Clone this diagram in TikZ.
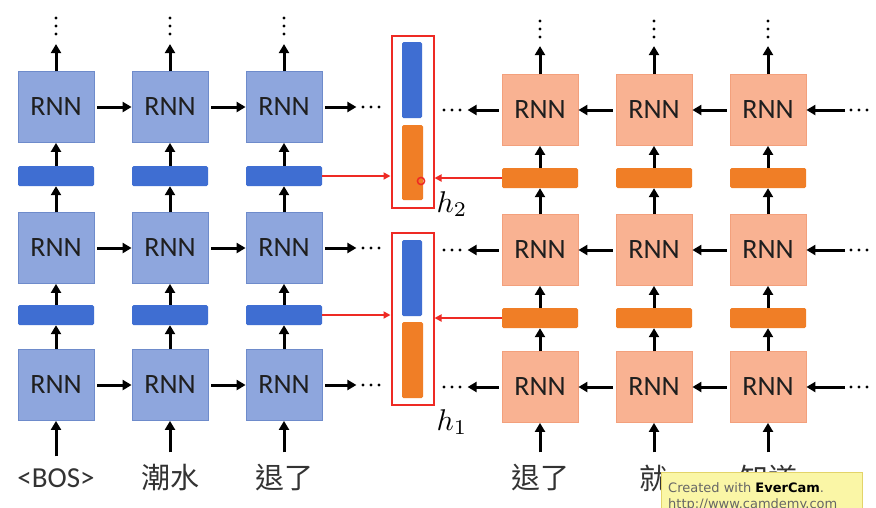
\documentclass[tikz,border=0pt]{standalone}
\usepackage{fontspec}
\setmainfont{Carlito}
\newfontfamily\cjk{Noto Sans CJK TC}
\newfontfamily\wmfont{DejaVu Sans}
\usetikzlibrary{arrows.meta}
\definecolor{lbfill}{HTML}{8EA6DD}
\definecolor{lbdraw}{HTML}{6E8BCB}
\definecolor{bbar}{HTML}{3F6ED2}
\definecolor{ofill}{HTML}{F9B292}
\definecolor{odraw}{HTML}{F3A07C}
\definecolor{obar}{HTML}{F07E26}
\definecolor{hred}{HTML}{EE2A24}
\definecolor{wmfill}{HTML}{FAF6A6}
\definecolor{wmdraw}{HTML}{E3D46A}
\tikzset{
  rnnbox/.style={minimum width=76pt, minimum height=71pt, inner sep=0pt,
    font=\fontsize{28}{30}\selectfont, text=black!88},
  lrnn/.style={rnnbox, draw=lbdraw, fill=lbfill, line width=0.8pt},
  rrnn/.style={rnnbox, draw=odraw, fill=ofill, line width=0.8pt},
  barbox/.style={minimum width=76pt, minimum height=20pt, inner sep=0pt, rounded corners=1.5pt},
  bbarS/.style={barbox, fill=bbar},
  obarS/.style={barbox, fill=obar},
  arr/.style={-{Triangle[length=9pt,width=10pt]}, line width=3pt, black},
  rarr/.style={-{Triangle[length=7pt,width=7pt]}, line width=1.8pt, hred},
  hbox/.style={draw=hred, line width=2pt, minimum width=42pt, minimum height=172pt, inner sep=0pt},
  wordlab/.style={font=\fontsize{29}{31}\selectfont, text=black!80, inner sep=0pt},
  hlab/.style={scale=3, inner sep=0pt},
  dotS/.style={fill=black}
}
\begin{document}
\begin{tikzpicture}[x=1pt,y=-1pt]
\fill[white] (0,0) rectangle (876,507);
\useasboundingbox (0,0) rectangle (876,507);
\clip (0,0) rectangle (876,507);

% ---------- left (forward) stack ----------
\foreach \c/\x in {1/56,2/170,3/284} {
  \node[lrnn] (La\c) at (\x,107) {RNN};
  \node[lrnn] (Lb\c) at (\x,248) {RNN};
  \node[lrnn] (Lc\c) at (\x,385) {RNN};
  \node[bbarS] (Lu\c) at (\x,176) {};
  \node[bbarS] (Ll\c) at (\x,315) {};
}
\node[wordlab] (in1) at (56,478) {<BOS>};
\node[wordlab] (in2) at (170,478) {\cjk 潮水};
\node[wordlab] (in3) at (284,478) {\cjk 退了};

\foreach \c in {1,2,3} {
  \draw[arr] ([yshift=12pt]in\c.north) -- (Lc\c.south);
  \draw[arr] (Lc\c.north) -- (Ll\c.south);
  \draw[arr] (Ll\c.north) -- (Lb\c.south);
  \draw[arr] (Lb\c.north) -- (Lu\c.south);
  \draw[arr] (Lu\c.north) -- (La\c.south);
  \draw[arr] (La\c.north) -- ++(0,-27);
}
\foreach \x in {56,170,284} {
  \foreach \y in {18,26,34} { \fill[dotS] (\x,\y) circle (1.7); }
}
\draw[arr, shorten <=3pt] (La1.east) -- (La2.west);
\draw[arr, shorten <=3pt] (La2.east) -- (La3.west);
\draw[arr, shorten <=3pt] (Lb1.east) -- (Lb2.west);
\draw[arr, shorten <=3pt] (Lb2.east) -- (Lb3.west);
\draw[arr, shorten <=3pt] (Lc1.east) -- (Lc2.west);
\draw[arr, shorten <=3pt] (Lc2.east) -- (Lc3.west);
\foreach \r in {a,b,c} {
  \draw[arr, shorten <=3pt] (L\r3.east) -- ++(34,0);
}
\foreach \y in {107,248,385} {
  \foreach \x in {363,371,379} { \fill[dotS] (\x,\y) circle (1.7); }
}

% ---------- right (backward) stack ----------
\foreach \c/\x in {1/540,2/654,3/768} {
  \node[rrnn] (Ra\c) at (\x,110) {RNN};
  \node[rrnn] (Rb\c) at (\x,250) {RNN};
  \node[rrnn] (Rc\c) at (\x,387) {RNN};
  \node[obarS] (Ru\c) at (\x,178) {};
  \node[obarS] (Rl\c) at (\x,318) {};
}
\node[wordlab] (rin1) at (540,478) {\cjk 退了};
\node[wordlab] (rin2) at (654,478) {\cjk 就};
\node[wordlab] (rin3) at (768,478) {\cjk 知道};

\foreach \c in {1,2,3} {
  \draw[arr] ([yshift=12pt]rin\c.north) -- (Rc\c.south);
  \draw[arr] (Rc\c.north) -- (Rl\c.south);
  \draw[arr] (Rl\c.north) -- (Rb\c.south);
  \draw[arr] (Rb\c.north) -- (Ru\c.south);
  \draw[arr] (Ru\c.north) -- (Ra\c.south);
  \draw[arr] (Ra\c.north) -- ++(0,-28);
}
\foreach \x in {540,654,768} {
  \foreach \y in {21,29,37} { \fill[dotS] (\x,\y) circle (1.7); }
}
\draw[arr, shorten <=3pt] (Ra2.west) -- (Ra1.east);
\draw[arr, shorten <=3pt] (Ra3.west) -- (Ra2.east);
\draw[arr, shorten <=3pt] (Rb2.west) -- (Rb1.east);
\draw[arr, shorten <=3pt] (Rb3.west) -- (Rb2.east);
\draw[arr, shorten <=3pt] (Rc2.west) -- (Rc1.east);
\draw[arr, shorten <=3pt] (Rc3.west) -- (Rc2.east);
\foreach \r/\y in {a/110,b/250,c/387} {
  \draw[arr, shorten <=3pt] (R\r1.west) -- ++(-34,0);
  \coordinate (e\r) at (845,\y);
  \draw[arr] (e\r) -- (R\r3.east);
  \foreach \x in {444,452,460} { \fill[dotS] (\x,\y) circle (1.7); }
  \foreach \x in {851,859,867} { \fill[dotS] (\x,\y) circle (1.7); }
}

% ---------- concatenated hidden states ----------
\node[hbox] (H2) at (412.5,121.5) {};
\node[fill=bbar, minimum width=20pt, minimum height=76pt, inner sep=0pt, rounded corners=1.5pt] (H2b) at (412,80) {};
\node[fill=obar, minimum width=21pt, minimum height=75pt, inner sep=0pt, rounded corners=1.5pt] (H2o) at (412.5,162.5) {};
\node[hbox] (H1) at (412.5,319) {};
\node[fill=bbar, minimum width=20pt, minimum height=76pt, inner sep=0pt, rounded corners=1.5pt] (H1b) at (412,278) {};
\node[fill=obar, minimum width=21pt, minimum height=76pt, inner sep=0pt, rounded corners=1.5pt] (H1o) at (412.5,360) {};

\draw[rarr] (Lu3.east) -- (H2.west |- Lu3.east);
\draw[rarr] (Ru1.west) -- (H2.east |- Ru1.west);
\draw[rarr] (Ll3.east) -- (H1.west |- Ll3.east);
\draw[rarr] (Rl1.west) -- (H1.east |- Rl1.west);

\node[hlab] (h2) at (452,204) {$h_2$};
\node[hlab] (h1) at (452,422) {$h_1$};

\draw[hred, line width=1.5pt] (421,181) circle (3.6);

% ---------- watermark ----------
\node[fill=wmfill, draw=wmdraw, line width=0.8pt, anchor=north west,
      minimum width=201pt, minimum height=46pt, inner sep=0pt] (wm) at (661,472) {};
\node[anchor=base west, font=\wmfont\fontsize{13}{15}\selectfont, text=black!60, inner sep=0pt]
  (wm1) at (668,492) {Created with {\color{black}\bfseries EverCam}.};
\node[anchor=base west, font=\wmfont\fontsize{13}{15}\selectfont, text=black!60, inner sep=0pt]
  (wm2) at (668,508) {http://www.camdemy.com};
\end{tikzpicture}
\end{document}
